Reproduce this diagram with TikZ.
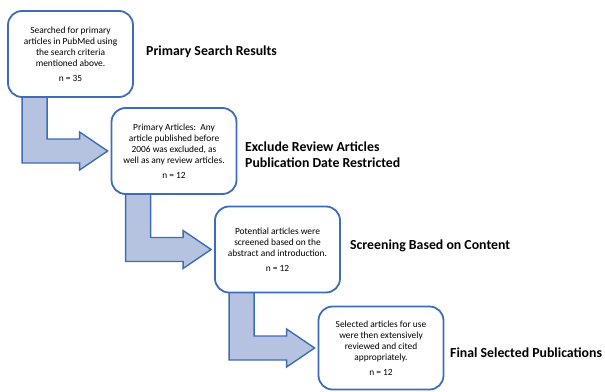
\documentclass[tikz,border=0pt]{standalone}
\usepackage{fontspec}
\setmainfont{Carlito}
\usetikzlibrary{calc,backgrounds}
\definecolor{boxblue}{RGB}{62,108,182}
\definecolor{arrowfill}{RGB}{182,195,224}
\tikzset{
  stagebox/.style={draw=boxblue, line width=1.8pt, rounded corners=14pt, fill=white,
    minimum width=125pt, minimum height=86pt, align=center, inner sep=2pt,
    font=\fontsize{9.4}{11}\selectfont},
  stagelabel/.style={anchor=west, align=left, inner sep=0pt,
    font=\fontsize{13.8}{16}\selectfont\bfseries},
  bent/.style={draw=boxblue, line width=1.4pt, fill=arrowfill, line join=miter}
}
\begin{document}
\begin{tikzpicture}[x=1pt,y=-1pt]
\path[use as bounding box] (0,0) rectangle (605,391);
\node[stagebox] (b1) at (70.5,54) {Searched for primary\\articles in PubMed using\\the search criteria\\mentioned above.\\[4pt]n = 35};
\node[stagebox] (b2) at (174,151) {Primary Articles:\ \ Any\\article published before\\2006 was excluded, as\\well as any review articles.\\[4pt]n = 12};
\node[stagebox] (b3) at (277.5,249.5) {Potential articles were\\screened based on the\\abstract and introduction.\\[4pt]n = 12};
\node[stagebox, minimum height=83pt] (b4) at (381,348) {Selected articles for use\\were then extensively\\reviewed and cited\\appropriately.\\[4pt]n = 12};
\node[stagelabel] (l1) at (146,52) {Primary Search Results};
\node[stagelabel] (l2) at (245,155) {Exclude Review Articles\\Publication Date Restricted};
\node[stagelabel] (l3) at (350,246) {Screening Based on Content};
\node[stagelabel] (l4) at (450,353) {Final Selected Publications};
\begin{pgfonlayer}{background}
\foreach \s/\t in {b1/b2,b2/b3,b3/b4}{
\draw[bent] let \p1=(\s.south west), \p2=(\t.west) in
  (\x1+15pt,\y1+3pt) -- (\x1+40pt,\y1+3pt) -- (\x1+40pt,\y2+12pt) -- (\x2-31pt,\y2+12pt)
  -- (\x2-31pt,\y2+19pt) -- (\x2-3pt,\y2) -- (\x2-31pt,\y2-19pt) -- (\x2-31pt,\y2-12pt)
  -- (\x1+15pt,\y2-12pt) -- cycle;
}
\end{pgfonlayer}
\end{tikzpicture}
\end{document}
